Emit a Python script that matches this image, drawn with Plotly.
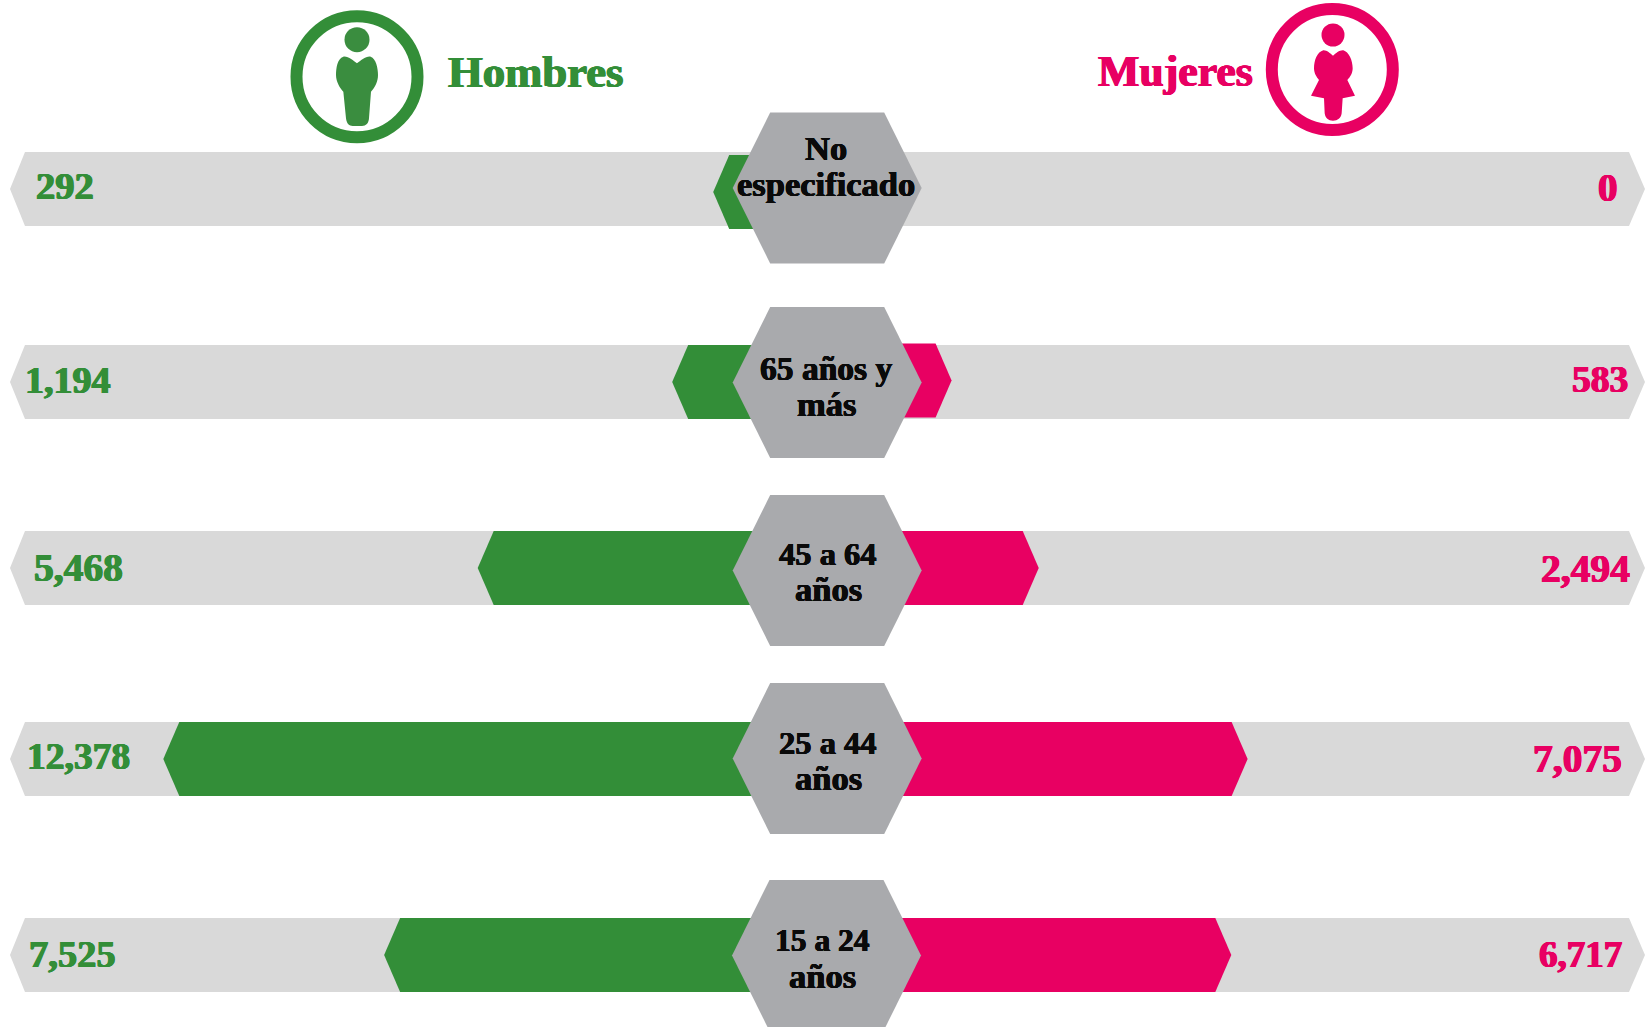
import plotly.graph_objects as go

# ---------- data ----------
categories = ["No<br>especificado", "65 años y<br>más", "45 a 64<br>años", "25 a 44<br>años", "15 a 24<br>años"]
hombres = [292, 1194, 5468, 12378, 7525]
mujeres = [0, 583, 2494, 7075, 6717]
titulo_h = "Hombres"
titulo_m = "Mujeres"

# ---------- layout constants ----------
W, H = 1649, 1027
GREEN, PINK, TRACK, HEX, INK = "#338e38", "#e80062", "#d9d9d9", "#a9aaad", "#0a0a0a"
FONT = "Liberation Serif"
row_y = [189, 382, 568, 759, 955]
bar_y_h = [192, 382, 568, 759, 955]
bar_y_m = [189, 380.5, 568, 759, 955]
hex_y = [188, 382.5, 570.5, 758.5, 955.5]
hex_x = [827.2, 827.2, 827.2, 827.2, 826.5]
label_cx = [826, 826, 828, 828, 822]
label_y = [(148, 184), (368, 404), (553.5, 589), (742.5, 778), (940.5, 976)]
label_size = [(34.5, 34.5), (33.5, 34.5), (32.5, 34.5), (32.5, 34.5), (31.5, 34.5)]
hval_x = [35, 24, 33, 26, 28]
hval_y = [186, 380, 568, 756, 954]
mval_x = [1619, 1629, 1631, 1623, 1623]
mval_y = [188, 380, 569, 759, 954]
val_size = [38.5, 38, 39.5, 37.5, 38.5]
mval_size = [39, 37.5, 39.5, 39.5, 37]
H_SCALE, H_ZERO = 0.0455, 726.5
M_SCALE, M_ZERO = 0.0456, 925.0
TIP = 16
BAR_H = 37


def px(x):
    return x / W


def py(y):
    return 1 - y / H


def poly(points):
    return "M " + " L ".join(f"{px(x):.5f} {py(y):.5f}" for x, y in points) + " Z"


def curve(spec, ox, oy, k=1 / 3):
    out, nums = [], 0
    for tok in spec.split():
        if tok.isalpha():
            out.append(tok)
            nums = 0
        else:
            v = float(tok)
            if nums % 2 == 0:
                out.append(f"{px(ox + v * k):.5f}")
            else:
                out.append(f"{py(oy + v * k):.5f}")
            nums += 1
    return " ".join(out)


shapes, annotations = [], []
for y in row_y:
    shapes.append(dict(type="path", layer="below", xref="paper", yref="paper", line_width=0, fillcolor=TRACK,
                       path=poly([(10, y), (25, y - BAR_H), (1629, y - BAR_H), (1645, y), (1629, y + BAR_H), (25, y + BAR_H)])))
for cx, y in zip(hex_x, hex_y):
    shapes.append(dict(type="path", layer="above", xref="paper", yref="paper", line_width=0, fillcolor=HEX,
                       path=poly([(cx - 94.5, y), (cx - 57, y - 75.5), (cx + 57, y - 75.5), (cx + 94.5, y),
                                  (cx + 57, y + 75.5), (cx - 57, y + 75.5)])))


def ring(cx, cy, color):
    r = 60.5
    shapes.append(dict(type="circle", xref="paper", yref="paper", x0=px(cx - r), x1=px(cx + r), y0=py(cy + r), y1=py(cy - r),
                       line=dict(color=color, width=12), fillcolor="rgba(0,0,0,0)"))


def head(cx, cy, r, color):
    shapes.append(dict(type="circle", xref="paper", yref="paper", x0=px(cx - r), x1=px(cx + r), y0=py(cy + r), y1=py(cy - r),
                       line_width=0, fillcolor=color))


ring(357, 76.7, GREEN)
ring(1332.3, 69.5, PINK)
head(357, 39.7, 12.5, "#3a8d3f")
head(1333, 35, 11.5, PINK)
shapes.append(dict(type="path", xref="paper", yref="paper", line_width=0, fillcolor="#3a8d3f", path=curve(
    "M 291 190 C 280 182 265 168 250 170 C 232 175 228 205 228 225 C 228 245 240 265 250 275 L 258 355 "
    "C 260 372 268 378 278 378 L 306 378 C 318 378 326 370 327 355 L 333 275 C 345 262 354 245 354 225 "
    "C 354 205 348 175 332 170 C 317 168 302 182 291 190 Z", 260, 0)))
shapes.append(dict(type="path", xref="paper", yref="paper", line_width=0, fillcolor=PINK, path=curve(
    "M 819 167 C 810 160 800 150 790 151 C 772 156 762 180 762 205 C 762 220 770 232 777 240 L 753 287 L 792 295 "
    "L 794 340 C 796 355 805 362 819 362 C 833 362 843 355 845 340 L 848 295 L 885 287 L 862 240 "
    "C 870 232 878 220 878 205 C 878 180 866 156 850 151 C 838 150 828 160 819 167 Z", 1060, 0)))


def text(s, x, y, size, color, anchor, w=0.7):
    glow = f"{w}px 0 0 {color}, -{w}px 0 0 {color}, 0 0.4px 0 {color}, 0 -0.4px 0 {color}"
    annotations.append(dict(text=f"<b>{s}</b>", x=px(x), y=py(y), xref="paper", yref="paper", xanchor=anchor, yanchor="middle",
                            showarrow=False, font=dict(family=FONT, size=size, color=color, shadow=glow), borderpad=0))


text(titulo_h, 447, 72, 44.7, GREEN, "left")
text(titulo_m, 1254, 71, 43.8, PINK, "right")
for cat, cx, (y1, y2), (s1, s2) in zip(categories, label_cx, label_y, label_size):
    lines = cat.split("<br>")
    text(lines[0], cx, y1, s1, INK, "center", 0.5)
    text(lines[1], cx, y2, s2, INK, "center", 0.5)
for v, x, y, s in zip(hombres, hval_x, hval_y, val_size):
    text(f"{v:,}", x, y, s, GREEN, "left")
for v, x, y, s in zip(mujeres, mval_x, mval_y, mval_size):
    text(f"{v:,}", x, y, s, PINK, "right")

fig = go.Figure()
hub = 1100
for v, y in zip(hombres, bar_y_h):
    d = TIP / H_SCALE
    fig.add_trace(go.Scatter(x=[-hub, v - d, v, v - d, -hub, -hub], y=[y - BAR_H, y - BAR_H, y, y + BAR_H, y + BAR_H, y - BAR_H],
                             mode="lines", fill="toself", fillcolor=GREEN, line_width=0, xaxis="x", yaxis="y",
                             hoverinfo="skip", showlegend=False))
for v, y in zip(mujeres, bar_y_m):
    if v <= 0:
        continue
    d = TIP / M_SCALE
    fig.add_trace(go.Scatter(x=[-hub, v - d, v, v - d, -hub, -hub], y=[y - BAR_H, y - BAR_H, y, y + BAR_H, y + BAR_H, y - BAR_H],
                             mode="lines", fill="toself", fillcolor=PINK, line_width=0, xaxis="x2", yaxis="y",
                             hoverinfo="skip", showlegend=False))

fig.update_layout(
    width=W, height=H, margin=dict(l=0, r=0, t=0, b=0, pad=0), paper_bgcolor="white", plot_bgcolor="white",
    showlegend=False, shapes=shapes, annotations=annotations,
    xaxis=dict(domain=[0, 1], range=[H_ZERO / H_SCALE, (H_ZERO - W) / H_SCALE], visible=False, fixedrange=True),
    xaxis2=dict(domain=[0, 1], range=[-M_ZERO / M_SCALE, (W - M_ZERO) / M_SCALE], overlaying="x", anchor="y", visible=False, fixedrange=True),
    yaxis=dict(domain=[0, 1], range=[H, 0], visible=False, fixedrange=True),
)
fig.write_html("out.html", config={"displayModeBar": False},
               post_script="document.documentElement.style.overflow='hidden';document.body.style.margin='0';")
